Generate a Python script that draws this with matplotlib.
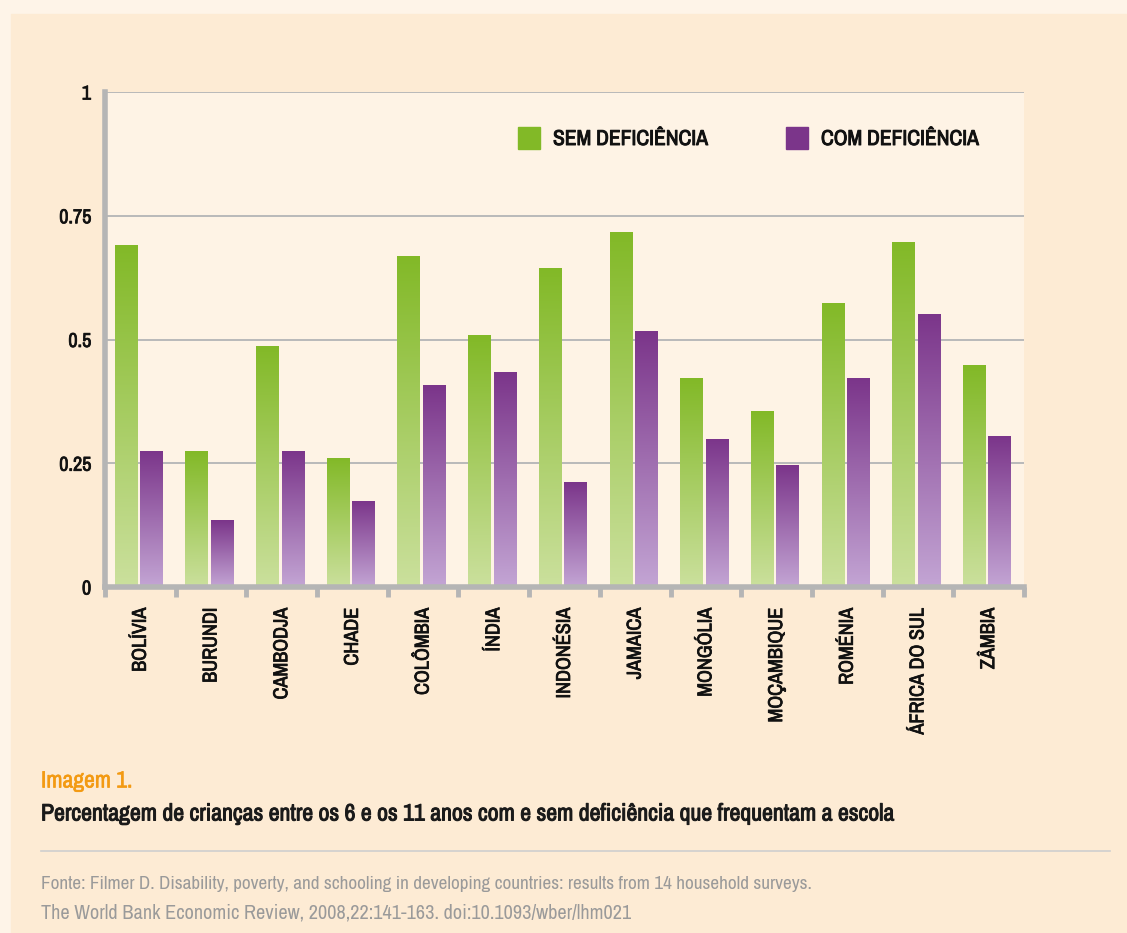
import numpy as np
import matplotlib
matplotlib.use("Agg")
import matplotlib.pyplot as plt
from matplotlib import font_manager
from matplotlib import patheffects as pe
from matplotlib.colors import to_rgb

# look for a narrow / condensed face, otherwise plain sans
narrow = None
for f in font_manager.fontManager.ttflist:
    n = f.name.lower()
    if 'narrow' in n or 'condensed' in n:
        narrow = (f.name, 'normal')
        break
if narrow is None:
    for f in font_manager.fontManager.ttflist:
        if str(f.stretch) in ('condensed', 'semi-condensed'):
            narrow = (f.name, 'condensed')
            break
if narrow is None:
    narrow = ('DejaVu Sans', 'normal')
plt.rcParams['font.family'] = [narrow[0], 'DejaVu Sans']
plt.rcParams['font.stretch'] = narrow[1]

countries = ['BOLÍVIA', 'BURUNDI', 'CAMBODJA', 'CHADE', 'COLÔMBIA', 'ÍNDIA',
             'INDONÉSIA', 'JAMAICA', 'MONGÓLIA', 'MOÇAMBIQUE', 'ROMÉNIA',
             'ÁFRICA DO SUL', 'ZÂMBIA']
sem_def = [0.691, 0.275, 0.487, 0.261, 0.669, 0.509, 0.644, 0.717, 0.422,
           0.356, 0.574, 0.697, 0.448]
com_def = [0.275, 0.135, 0.275, 0.174, 0.408, 0.434, 0.212, 0.517, 0.299,
           0.246, 0.422, 0.552, 0.305]
yticks = [0, 0.25, 0.5, 0.75, 1]
ytick_labels = ['0', '0.25', '0.5', '0.75', '1']
series_names = ['SEM DEFICIÊNCIA', 'COM DEFICIÊNCIA']

green_top, green_bot = '#82b927', '#cbe09d'
purple_top, purple_bot = '#7b358a', '#c3a5d4'
grid_c = '#b9b9b9'
axis_c = '#b5b5b5'


def heavy(c, lw=0.6):
    return [pe.withStroke(linewidth=lw, foreground=c)]


fig = plt.figure(figsize=(11.27, 9.33), dpi=100, facecolor='#fef4e8')
panel = plt.Rectangle((11 / 1127, 0), 1, 1 - 14 / 933,
                      transform=fig.transFigure, color='#fdebd4', zorder=-10)
fig.add_artist(panel)

ax = fig.add_axes([105 / 1127, 1 - 587 / 933, 919 / 1127, 495 / 933])
ax.set_facecolor('#fef3e5')

x = np.arange(len(countries)) + 0.5
w = 0.325


def grad_bars(xpos, vals, top, bot):
    bars = ax.bar(xpos, vals, w, color='none', zorder=2)
    g = np.linspace(0, 1, 256)[:, None, None]
    img = (1 - g) * np.array(to_rgb(top)) + g * np.array(to_rgb(bot))
    for r in bars:
        x0, h = r.get_x(), r.get_height()
        im = ax.imshow(img, extent=[x0, x0 + r.get_width(), 0, h],
                       aspect='auto', zorder=2, interpolation='bilinear')
        im.set_clip_path(r)
    return bars


grad_bars(x - 0.2, sem_def, green_top, green_bot)
grad_bars(x + 0.16, com_def, purple_top, purple_bot)

ax.set_xlim(0, len(countries))
ax.set_ylim(0, 1)
ax.set_yticks(yticks)
ax.set_yticklabels(ytick_labels, fontsize=14.5, color='#111111')
ax.tick_params(axis='y', length=0, pad=10)
ax.yaxis.grid(True, color=grid_c, lw=1.4, zorder=1)
ax.set_axisbelow(True)

ax.set_xticks(x)
ax.set_xticklabels(countries, rotation=90, fontsize=14.5, va='top',
                   color='#111111')
ax.tick_params(axis='x', which='major', length=0, pad=15)
ax.set_xticks(np.arange(len(countries) + 1), minor=True)
ax.tick_params(axis='x', which='minor', length=7, width=3.5, color=axis_c)
for t in ax.get_xticklabels() + ax.get_yticklabels():
    t.set_path_effects(heavy('#111111', 0.55))

for s in ['top', 'right']:
    ax.spines[s].set_visible(False)
for s in ['left', 'bottom']:
    ax.spines[s].set_color(axis_c)
    ax.spines[s].set_linewidth(4)

# legend
for lx, col, name in [(518, green_top, series_names[0]),
                      (786, purple_top, series_names[1])]:
    fig.add_artist(plt.Rectangle((lx / 1127, 1 - 149 / 933), 22 / 1127,
                                 22 / 933, transform=fig.transFigure,
                                 color=col, zorder=3))
    fig.text((lx + 35) / 1127, 1 - 139 / 933, name, fontsize=15.5,
             va='center', ha='left', color='#111111',
             path_effects=heavy('#111111', 0.7))

fig.text(41 / 1127, 1 - 781 / 933, 'Imagem 1.', fontsize=17,
         color='#f39a12', va='center', path_effects=heavy('#f39a12', 0.4))
cap = fig.text(41 / 1127, 1 - 814 / 933,
               'Percentagem de crianças entre os 6 e os 11 anos com e sem '
               'deficiência que frequentam a escola',
               fontsize=16, color='#1a1a1a', va='center',
               path_effects=heavy('#1a1a1a', 0.7))
fig.add_artist(plt.Line2D([41 / 1127, 1110 / 1127], [1 - 851 / 933] * 2,
                          color='#cfcfcf', lw=1.2))
src1 = fig.text(41 / 1127, 1 - 884 / 933,
                'Fonte: Filmer D. Disability, poverty, and schooling in developing '
                'countries: results from 14 household surveys.',
                fontsize=13.5, color='#9a9a9a', va='center')
src2 = fig.text(41 / 1127, 1 - 913 / 933,
                'The World Bank Economic Review, 2008,22:141-163. '
                'doi:10.1093/wber/lhm021',
                fontsize=13.5, color='#9a9a9a', va='center')

# fit long texts to their width in the reference
r = fig.canvas.get_renderer()
for t, target in [(cap, 856), (src1, 772), (src2, 593)]:
    wpx = t.get_window_extent(r).width
    t.set_fontsize(t.get_fontsize() * target / wpx)

fig.savefig('out.png', dpi=100, facecolor=fig.get_facecolor())
